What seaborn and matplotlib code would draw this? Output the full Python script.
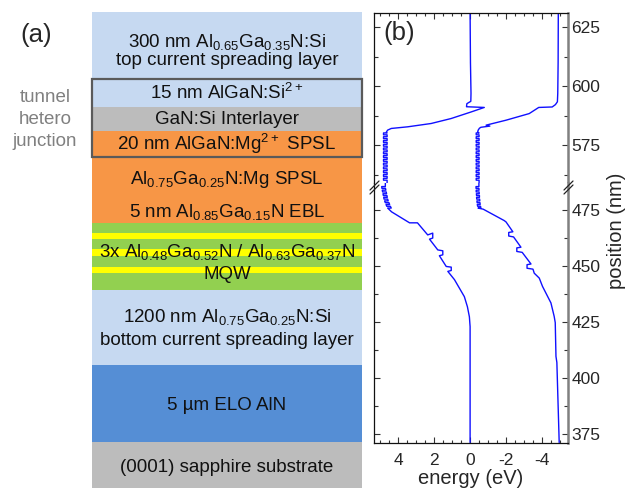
import numpy as np
import pandas as pd
import matplotlib
matplotlib.use("Agg")
import matplotlib.pyplot as plt
from matplotlib.patches import Rectangle
from matplotlib.lines import Line2D
from matplotlib.ticker import MultipleLocator
import seaborn as sns

# ---------------- layer stack (schematic, top to bottom) ----------------
layer_edges = [12, 79, 107, 131, 157, 223, 233, 239, 249, 256, 267, 273, 290, 365, 442, 488]
layer_colors = ['#c6d9f1', '#c6d9f1', '#bcbcbc', '#f79646', '#f79646',
                '#92d050', '#ffff00', '#92d050', '#ffff00', '#92d050', '#ffff00', '#92d050',
                '#c6d9f1', '#558ed5', '#bcbcbc']
layer_texts = [
    (r"300 nm Al$_{0.65}$Ga$_{0.35}$N:Si", 42),
    ("top current spreading layer", 60),
    (r"15 nm AlGaN:Si$^{2+}$", 93),
    ("GaN:Si Interlayer", 119),
    (r"20 nm AlGaN:Mg$^{2+}$ SPSL", 144),
    (r"Al$_{0.75}$Ga$_{0.25}$N:Mg SPSL", 179),
    (r"5 nm Al$_{0.85}$Ga$_{0.15}$N EBL", 212),
    (r"3x Al$_{0.48}$Ga$_{0.52}$N / Al$_{0.63}$Ga$_{0.37}$N", 252),
    ("MQW", 274),
    (r"1200 nm Al$_{0.75}$Ga$_{0.25}$N:Si", 317),
    ("bottom current spreading layer", 340),
    ("5 µm ELO AlN", 405),
    ("(0001) sapphire substrate", 467),
]
tj_lines = ["tunnel", "hetero", "junction"]

# ---------------- band profile (b) ----------------
# left curve, top part (position nm, energy eV)
ec_top_pos = [631, 610, 597, 593.6, 592.6, 591.3, 591.0, 589.1, 586.3, 584.2, 582.8, 582.1, 581.4, 580.6]
ec_top_e = [0.0, -0.02, -0.05, -0.04, 0.18, 0.2, -0.79, -0.06, 1.06, 2.17, 3.47, 4.39, 4.59, 4.66]
# right curve, top part
ev_top_pos = [631, 610, 597, 593.4, 592.2, 591.2, 591.0, 588.4, 585.6, 583.5, 583.1, 582.6, 582.2, 581.4, 580.6]
ev_top_e = [-4.91, -4.9, -4.88, -4.86, -4.75, -4.57, -3.82, -3.29, -2.0, -0.89, -1.1, -0.6, -0.52, -0.45, -0.42]

# SPSL layer boundaries (nm)
spsl_hi = [580.2, 579.4, 578.6, 577.8, 577.0, 576.2, 575.4, 574.6, 573.8, 573.0, 572.2, 571.4,
           570.6, 569.8, 569.0, 568.2, 567.4, 566.6, 565.8, 565.0, 564.2, 563.4, 562.6, 561.8,
           561.0, 560.2]
spsl_lo = [485.4, 484.6, 483.8, 483.0, 482.2, 481.4, 480.6, 479.8, 479.0, 478.2, 477.4, 476.6, 475.8]
ec_spsl_hi = 4.72
ev_spsl_hi = -0.42
ec_spsl_lo = [4.82, 4.81, 4.79, 4.77, 4.75, 4.73, 4.71, 4.69, 4.66, 4.62, 4.58, 4.54, 4.49]
ev_spsl_lo = [-0.41, -0.41, -0.42, -0.42, -0.43, -0.44, -0.44, -0.45, -0.46, -0.47, -0.48, -0.5, -0.52]

# left curve, lower part (EBL, 3 QWs, bottom CSL)
ec_bot_pos = [474.1, 469.2, 469.2, 463.8, 464.6, 462.4, 461.9, 457.1, 456.7, 454.9, 454.5,
              449.7, 449.4, 447.9, 447.5, 443.8, 436.2, 431.7, 427.2, 422.8, 371]
ec_bot_e = [4.37, 3.37, 2.93, 2.36, 2.08, 2.08, 2.26, 1.8, 1.52, 1.52, 1.71,
            1.33, 1.05, 1.05, 1.24, 0.87, 0.32, 0.15, 0.04, 0.0, 0.0]
# right curve, lower part
ev_bot_pos = [475.3, 470.2, 469.6, 465.2, 464.9, 463.3, 462.9, 458.3, 458.0, 456.4, 456.0,
              450.8, 450.5, 448.9, 448.5, 446.7, 444.5, 440.8, 433.4, 427.4, 424.6, 409.5, 406.8, 371]
ev_bot_e = [-0.73, -1.9, -2.0, -2.38, -2.15, -2.15, -2.42, -2.83, -2.6, -2.6, -2.9,
            -3.39, -3.17, -3.17, -3.5, -3.57, -3.85, -4.03, -4.5, -4.68, -4.74, -4.78, -4.83, -4.96]


def staircase(bounds, centers, amp):
    pos, e = [], []
    sign = 1
    for b, c in zip(bounds, centers):
        pos += [b, b]
        e += [c - sign * amp, c + sign * amp]
        sign = -sign
    return pos, e


def build(top_pos, top_e, c_hi, c_lo, amp, bot_pos, bot_e):
    p1, e1 = staircase(spsl_hi, [c_hi] * len(spsl_hi), amp)
    p2, e2 = staircase(spsl_lo, c_lo, amp)
    pos = top_pos + p1 + p2 + bot_pos
    e = top_e + e1 + e2 + bot_e
    return pd.DataFrame({"pos": pos, "energy": e})


ec = build(ec_top_pos, ec_top_e, ec_spsl_hi, ec_spsl_lo, 0.1, ec_bot_pos, ec_bot_e)
ev = build(ev_top_pos, ev_top_e, ev_spsl_hi, ev_spsl_lo, 0.08, ev_bot_pos, ev_bot_e)

# ---------------- style ----------------
sns.set_style("ticks")
plt.rcParams["font.family"] = ["Liberation Sans", "DejaVu Sans"]
plt.rcParams["mathtext.default"] = "regular"
plt.rcParams["axes.unicode_minus"] = False

W, H = 627, 488
fig = plt.figure(figsize=(W / 100, H / 100), dpi=100)

# ---------------- (a) layer stack ----------------
ax_a = fig.add_axes([92 / W, 0, 270 / W, 476 / H])
ax_a.set_xlim(0, 1)
ax_a.set_ylim(488, 12)
ax_a.axis("off")
for top, bot, col in zip(layer_edges[:-1], layer_edges[1:], layer_colors):
    ax_a.axhspan(top, bot, color=col, lw=0)
for txt, y in layer_texts:
    ax_a.text(0.5, y, txt, ha="center", va="center", fontsize=13.5, color="#111111")
ax_a.add_patch(Rectangle((0, 79), 1, 78, fill=False, ec="#5a5a5a", lw=1.6, clip_on=False))

fig.text(36 / W, 1 - 35 / H, "(a)", ha="center", va="center", fontsize=18.5)
for i, t in enumerate(tj_lines):
    fig.text(45 / W, 1 - (97 + 22.5 * i) / H, t, ha="center", va="center",
             fontsize=13.5, color="#808080")

# ---------------- (b) band diagram with broken axis ----------------
ax_u = fig.add_axes([374 / W, 1 - 183 / H, 194 / W, 170 / H])
ax_l = fig.add_axes([374 / W, 1 - 443 / H, 194 / W, 260 / H], sharex=ax_u)

for ax in (ax_u, ax_l):
    for band in (ec, ev):
        sns.lineplot(data=band, x="energy", y="pos", ax=ax, estimator=None, sort=False,
                     color="#1010ff", lw=1.0, legend=False)
    ax.set_xlabel("")
    ax.set_ylabel("")
    ax.yaxis.set_major_locator(MultipleLocator(25))
    ax.yaxis.set_minor_locator(MultipleLocator(12.5))
    ax.xaxis.set_major_locator(MultipleLocator(2))
    ax.xaxis.set_minor_locator(MultipleLocator(0.5))
    ax.tick_params(axis="both", which="both", direction="in", color="#333333")
    ax.tick_params(axis="y", which="both", left=True, right=True,
                   labelleft=False, labelright=True, labelsize=12.5, pad=2.5)
    ax.tick_params(axis="y", which="major", length=4.5, width=0.8)
    ax.tick_params(axis="y", which="minor", length=3, width=0.8)
    ax.tick_params(axis="x", which="major", length=4, width=0.8)
    ax.tick_params(axis="x", which="minor", length=2.5, width=0.8)
    for s in ("left", "top", "bottom"):
        ax.spines[s].set_linewidth(0.9)
        ax.spines[s].set_color("#111111")
    ax.spines["right"].set_linewidth(1.8)
    ax.spines["right"].set_color("#808080")

ax_u.set_xlim(5.35, -5.45)
ax_u.set_ylim(559, 631)
ax_l.set_ylim(370.8, 487)
ax_u.spines["bottom"].set_visible(False)
ax_l.spines["top"].set_visible(False)
ax_u.tick_params(axis="x", which="both", top=True, bottom=False, labelbottom=False)
ax_l.tick_params(axis="x", which="both", top=False, bottom=True, labelbottom=True,
                 labelsize=12.5, pad=7)

# break marks
for x0 in (370, 564):
    for dy in (0, 4):
        fig.add_artist(Line2D([x0 / W, (x0 + 9) / W],
                              [1 - (190 + dy) / H, 1 - (181 + dy) / H],
                              color="#222222", lw=0.9))

ax_u.text(0.13, 0.88, "(b)", transform=ax_u.transAxes, ha="center", va="center", fontsize=18.5)
fig.text(617 / W, 1 - 231 / H, "position (nm)", rotation=90, ha="center", va="center", fontsize=14.5)
fig.text(471 / W, 1 - 479 / H, "energy (eV)", ha="center", va="center", fontsize=14.5)

fig.savefig("out.png", dpi=100)
